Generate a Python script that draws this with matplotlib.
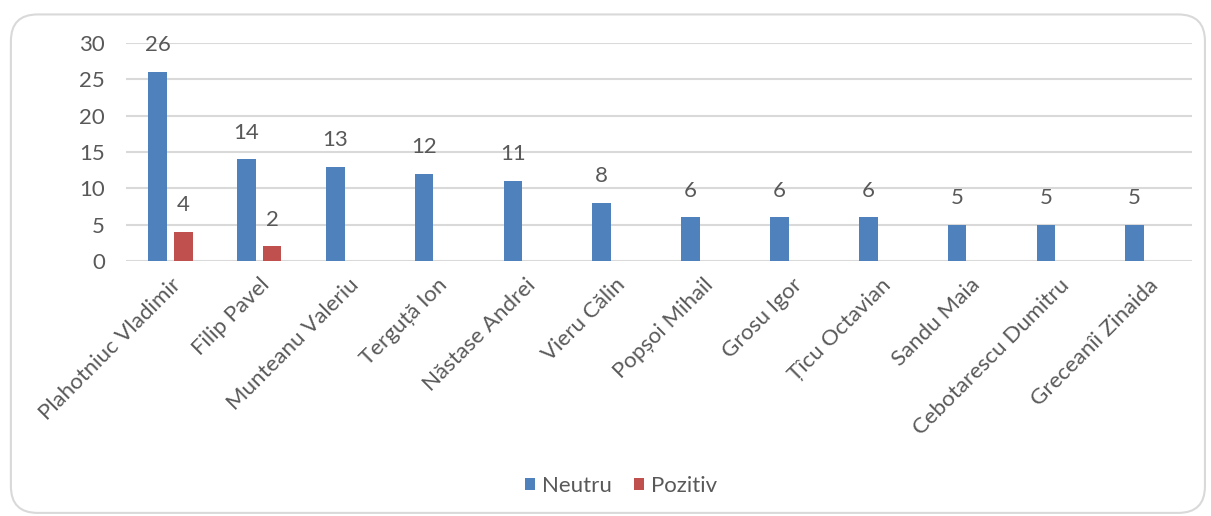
import matplotlib.pyplot as plt
import numpy as np
from matplotlib.patches import FancyBboxPatch

names = ['Plahotniuc Vladimir', 'Filip Pavel', 'Munteanu Valeriu', 'Terguță Ion',
         'Năstase Andrei', 'Vieru Călin', 'Popșoi Mihail', 'Grosu Igor',
         'Țîcu Octavian', 'Sandu Maia', 'Cebotarescu Dumitru', 'Greceanîi Zinaida']
neutru = [26, 14, 13, 12, 11, 8, 6, 6, 6, 5, 5, 5]
pozitiv = [4, 2, 0, 0, 0, 0, 0, 0, 0, 0, 0, 0]

plt.rcParams['font.family'] = ['Lato', 'DejaVu Sans']
grey = '#595959'
fs = 16

fig = plt.figure(figsize=(12.11, 5.16), dpi=100)
# rounded chart frame
frame = FancyBboxPatch((0.009, 0.006), 0.986, 0.966, boxstyle='round,pad=0,rounding_size=0.022',
                       transform=fig.transFigure, fc='white', ec='#d9d9d9', lw=1.5,
                       mutation_aspect=1211 / 516, zorder=-5)
fig.patches.append(frame)

ax = fig.add_axes([126 / 1211, 1 - 261 / 516, (1192 - 126) / 1211, (261 - 43) / 516])
x = np.arange(len(names))
b1 = ax.bar(x - 0.145, neutru, 0.21, color='#4F81BD', label='Neutru', zorder=3)
b2 = ax.bar(x + 0.145, pozitiv, 0.21, color='#C0504D', label='Pozitiv', zorder=3)

for i, v in enumerate(neutru):
    ax.text(x[i] - 0.145, v + 2.3, str(v), ha='center', va='bottom', fontsize=fs, color=grey)
for i, v in enumerate(pozitiv):
    if v:
        ax.text(x[i] + 0.145, v + 2.3, str(v), ha='center', va='bottom', fontsize=fs, color=grey)

ax.set_xlim(-0.5, len(names) - 0.5)
ax.set_ylim(0, 30)
ax.set_yticks(range(0, 31, 5))
ax.yaxis.grid(True, color='#d9d9d9', lw=1.5, zorder=0)
for s in ax.spines.values():
    s.set_visible(False)
ax.tick_params(length=0, labelsize=fs, colors=grey, pad=15)
ax.tick_params(axis='x', pad=10)
ax.set_xticks(x)
ax.set_xticklabels(names, rotation=45, ha='right', rotation_mode='anchor')
ax.patch.set_alpha(0)

fig.legend(handles=[b1, b2], loc='center', bbox_to_anchor=(0.513, 1 - 486 / 516), ncol=2,
           frameon=False, fontsize=fs, labelcolor=grey, handlelength=0.45, handleheight=0.45,
           handletextpad=0.3, columnspacing=1.0)

fig.savefig('out.png', dpi=100)
